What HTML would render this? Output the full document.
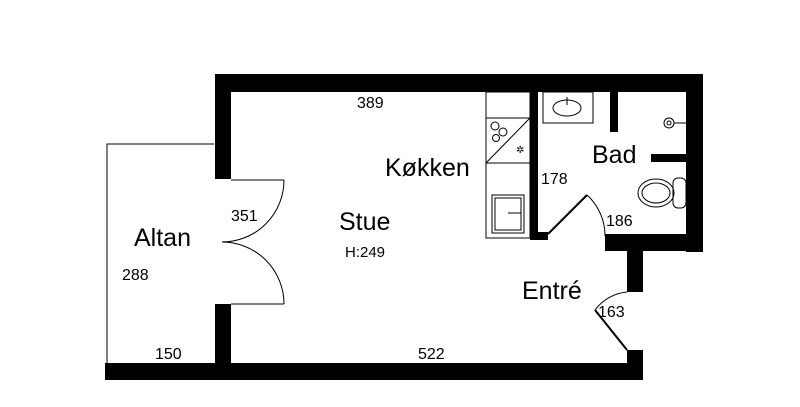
<!DOCTYPE html>
<html><head><meta charset="utf-8"><style>
html,body{margin:0;padding:0;background:#fff;}
svg{display:block;}
text{font-family:"Liberation Sans",sans-serif;fill:#000;}
</style></head><body>
<svg width="800" height="407" viewBox="0 0 800 407" xmlns="http://www.w3.org/2000/svg">
<polyline points="214,144 107,144 107,363" fill="none" stroke="#000" stroke-width="1"/>
<g fill="#000">
<rect x="215" y="74" width="488" height="18"/>
<rect x="215" y="74" width="16" height="105"/>
<rect x="215" y="304" width="16" height="76"/>
<rect x="105" y="363" width="538" height="17"/>
<rect x="686" y="74" width="17" height="178"/>
<rect x="605" y="234" width="98" height="17"/>
<rect x="627" y="234" width="16" height="58"/>
<rect x="627" y="350" width="16" height="30"/>
<rect x="530" y="92" width="8" height="148"/>
<rect x="530" y="232" width="18" height="8"/>
<rect x="610" y="92" width="8" height="40"/>
<rect x="651" y="154" width="35" height="8"/>
</g>
<g fill="none" stroke="#000" stroke-width="1">
<line x1="231" y1="180" x2="284" y2="180"/>
<path d="M284,180 A62,62 0 0 1 222,242"/>
<path d="M222,242 A62,62 0 0 1 284,304"/>
<line x1="231" y1="304" x2="284" y2="304"/>
<path d="M587,195 A55,55 0 0 1 605,236"/>
<path d="M595,310 A45,45 0 0 1 627,292"/>
</g>
<line x1="548" y1="234" x2="587" y2="195" stroke="#000" stroke-width="2"/>
<line x1="595" y1="310" x2="627" y2="350" stroke="#000" stroke-width="2"/>
<g fill="none" stroke="#000" stroke-width="1">
<rect x="486" y="92" width="44" height="146"/>
<line x1="486" y1="118" x2="530" y2="118"/>
<line x1="486" y1="163" x2="530" y2="163"/>
<line x1="486" y1="163" x2="530" y2="118"/>
<circle cx="495" cy="126" r="4"/><circle cx="503" cy="132" r="4"/><circle cx="496" cy="138" r="3.5"/>
<rect x="492" y="195" width="32" height="38"/>
<rect x="495" y="198" width="26" height="32"/>
<line x1="508" y1="213" x2="521" y2="213"/>
<rect x="543" y="92" width="50" height="31"/>
<ellipse cx="567" cy="108" rx="14" ry="8"/>
<line x1="567" y1="97" x2="567" y2="105"/>
<circle cx="669" cy="123" r="5"/>
<circle cx="669" cy="123" r="2"/>
<line x1="674" y1="123" x2="686" y2="123"/>
<ellipse cx="656" cy="193" rx="18" ry="14"/>
<ellipse cx="656" cy="193" rx="14" ry="10"/>
<rect x="673" y="178" width="13" height="30" rx="5"/>
</g>
<text x="516" y="153" font-size="10">✲</text>
<text x="357" y="108" font-size="16">389</text>
<text x="385" y="176" font-size="25">Køkken</text>
<text x="592" y="163" font-size="25">Bad</text>
<text x="541" y="184" font-size="16">178</text>
<text x="606" y="226" font-size="16">186</text>
<text x="339" y="230" font-size="25">Stue</text>
<text x="345" y="257" font-size="15">H:249</text>
<text x="231" y="221" font-size="16">351</text>
<text x="134" y="246" font-size="25">Altan</text>
<text x="122" y="280" font-size="16">288</text>
<text x="155" y="359" font-size="16">150</text>
<text x="418" y="359" font-size="16">522</text>
<text x="522" y="299" font-size="25">Entré</text>
<text x="598" y="317" font-size="16">163</text>
</svg>
</body></html>
